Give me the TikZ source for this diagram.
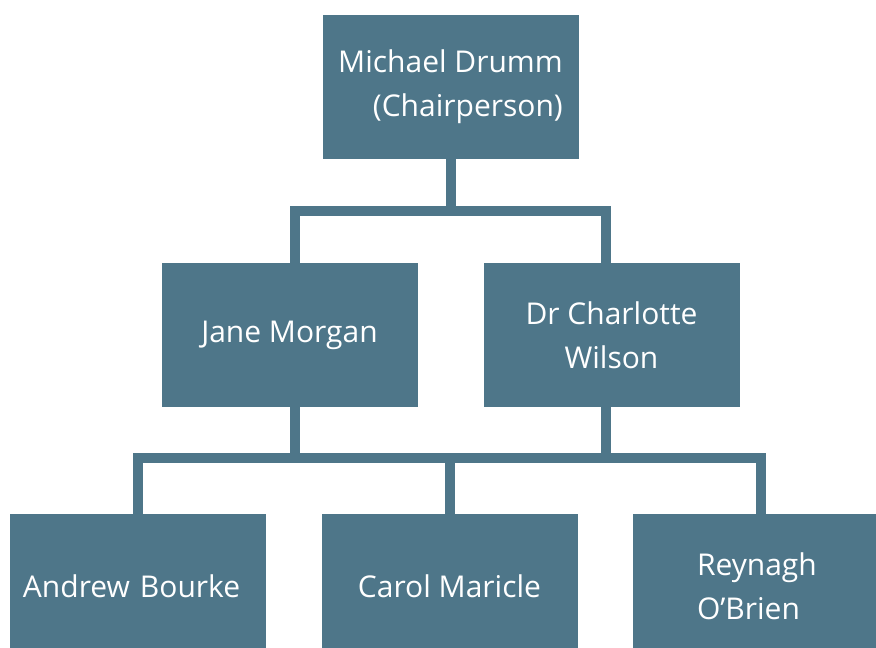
\documentclass[tikz,border=0pt]{standalone}
\usepackage{fontspec}
\setmainfont{Open Sans}
\usetikzlibrary{calc}
\definecolor{boxcol}{HTML}{4E7689}
\tikzset{
  orgbox/.style={fill=boxcol, draw=none, minimum width=256pt, minimum height=144pt,
    inner sep=0pt, text=white, font=\fontsize{30}{44}\selectfont},
  conn/.style={draw=boxcol, line width=10pt, line join=miter, line cap=butt}
}
\begin{document}
\begin{tikzpicture}[x=1pt,y=-1pt]
\useasboundingbox (0,0) rectangle (876,648);
\fill[white] (0,0) rectangle (876,648);
\clip (0,0) rectangle (876,648);
\node[orgbox, align=right] (michael) at (450.5,87) {Michael Drumm\\(Chairperson)};
\node[orgbox] (jane) at (289.5,335) {Jane Morgan};
\node[orgbox, align=center] (charlotte) at (611.5,335) {Dr Charlotte\\Wilson};
\node[orgbox, text width=230pt, align=left] (andrew) at (138,586) {Andrew Bourke};
\node[orgbox] (carol) at (449.5,586) {Carol Maricle};
\node[orgbox, text width=128pt, align=left] (reynagh) at (761,586) {Reynagh\\O’Brien};
\coordinate (highbar) at (450.5,211);
\coordinate (lowbar) at (449.5,458);
\coordinate (jtop) at ($(jane.north)+(5,0)$);
\coordinate (ctop) at ($(charlotte.north)+(-5.5,0)$);
\coordinate (jbot) at ($(jane.south)+(5,0)$);
\coordinate (cbot) at ($(charlotte.south)+(-5.5,0)$);
\draw[conn] (michael.south) -- (highbar);
\draw[conn] (jtop) |- (highbar) -| (ctop);
\draw[conn] (jbot) -- (jbot |- lowbar);
\draw[conn] (cbot) -- (cbot |- lowbar);
\draw[conn] (andrew.north) |- (lowbar) -| (reynagh.north);
\draw[conn] (carol.north) -- (lowbar);
\end{tikzpicture}
\end{document}
